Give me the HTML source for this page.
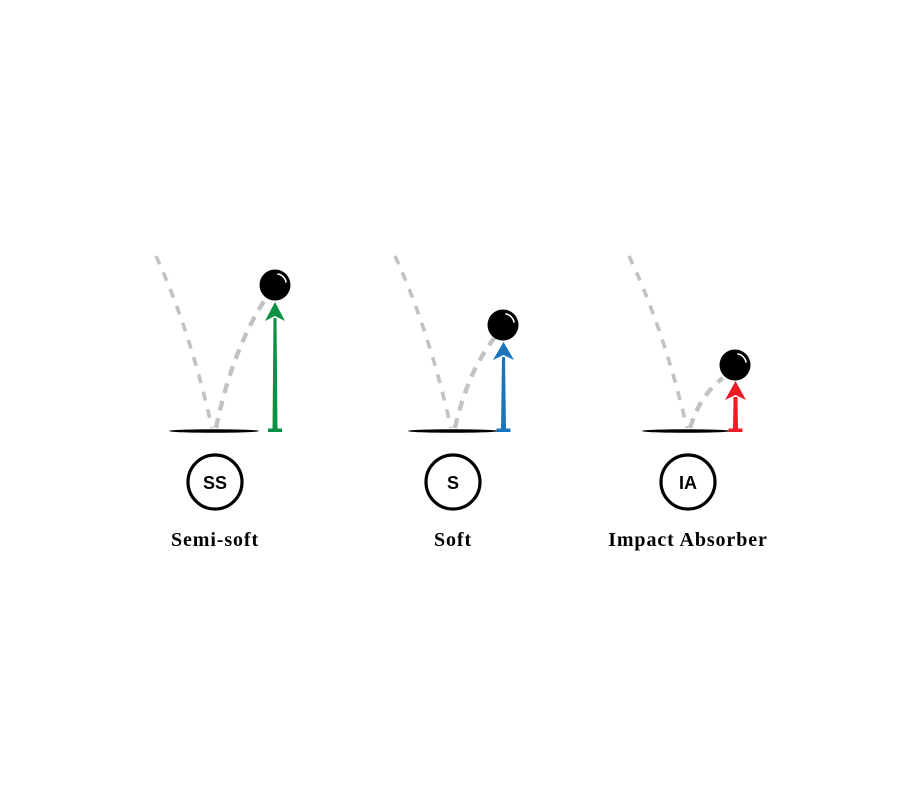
<!DOCTYPE html>
<html><head><meta charset="utf-8"><style>
html,body{margin:0;padding:0;background:#fff;}
svg{display:block}
</style></head><body>
<svg width="900" height="800" viewBox="0 0 900 800" xmlns="http://www.w3.org/2000/svg">
<defs>
<g id="ball">
<circle r="15.5" fill="#000"/>
<path d="M3,-11 A10,10 0 0 1 11,-3" stroke="#fff" stroke-width="1.6" fill="none" stroke-linecap="round"/>
</g>
</defs>
<g>
<ellipse cx="214" cy="431" rx="45" ry="1.8" fill="#000"/>
<path d="M156,256 Q190,330 212,428" stroke="#c2c2c4" stroke-width="3.6" fill="none" stroke-dasharray="9 9"/>
<path d="M216,428 Q232,350 266,298" stroke="#c2c2c4" stroke-width="4.4" fill="none" stroke-dasharray="10 8"/>
<polygon points="272.5,430 277.5,430 276.5,318 273.5,318" fill="#0a9145"/>
<polygon points="275,302 285,321 275,316 265,321" fill="#0a9145"/>
<rect x="268" y="428.5" width="14" height="3.5" fill="#0a9145"/>
<use href="#ball" x="275" y="285"/>
</g>
<g>
<ellipse cx="453" cy="431" rx="45" ry="1.8" fill="#000"/>
<path d="M395,256 Q429,330 451,428" stroke="#c2c2c4" stroke-width="3.6" fill="none" stroke-dasharray="9 9"/>
<path d="M455,428 Q468,370 496,336" stroke="#c2c2c4" stroke-width="4.4" fill="none" stroke-dasharray="10 8"/>
<polygon points="501,430 506,430 505,357 502,357" fill="#1b75bc"/>
<polygon points="503.5,342 514,360 503.5,355 493,360" fill="#1b75bc"/>
<rect x="496.5" y="428.5" width="14" height="3.5" fill="#1b75bc"/>
<use href="#ball" x="503" y="325"/>
</g>
<g>
<ellipse cx="686" cy="431" rx="44" ry="1.8" fill="#000"/>
<path d="M629,256 Q664,330 687,428" stroke="#c2c2c4" stroke-width="3.6" fill="none" stroke-dasharray="9 9"/>
<path d="M690,428 Q700,395 723,378" stroke="#c2c2c4" stroke-width="4.4" fill="none" stroke-dasharray="10 8"/>
<polygon points="733,430 738,430 737.5,397 733.5,397" fill="#ed1c24"/>
<polygon points="735.5,381 746,400 735.5,395 725,400" fill="#ed1c24"/>
<rect x="728.5" y="428.5" width="14" height="3.5" fill="#ed1c24"/>
<use href="#ball" x="735" y="365"/>
</g>
<g fill="none" stroke="#000" stroke-width="3.2">
<circle cx="215" cy="482" r="27"/>
<circle cx="453" cy="482" r="27"/>
<circle cx="688" cy="482" r="27"/>
</g>
<g font-family="'Liberation Sans',sans-serif" font-weight="bold" font-size="18" text-anchor="middle" fill="#000">
<text x="215" y="489">SS</text>
<text x="453" y="489">S</text>
<text x="688" y="489">IA</text>
</g>
<g font-family="'Liberation Serif',serif" font-weight="bold" font-size="20" letter-spacing="0.9" text-anchor="middle" fill="#000">
<text x="215" y="546">Semi-soft</text>
<text x="453" y="546">Soft</text>
<text x="688" y="546">Impact Absorber</text>
</g>
</svg>
</body></html>
